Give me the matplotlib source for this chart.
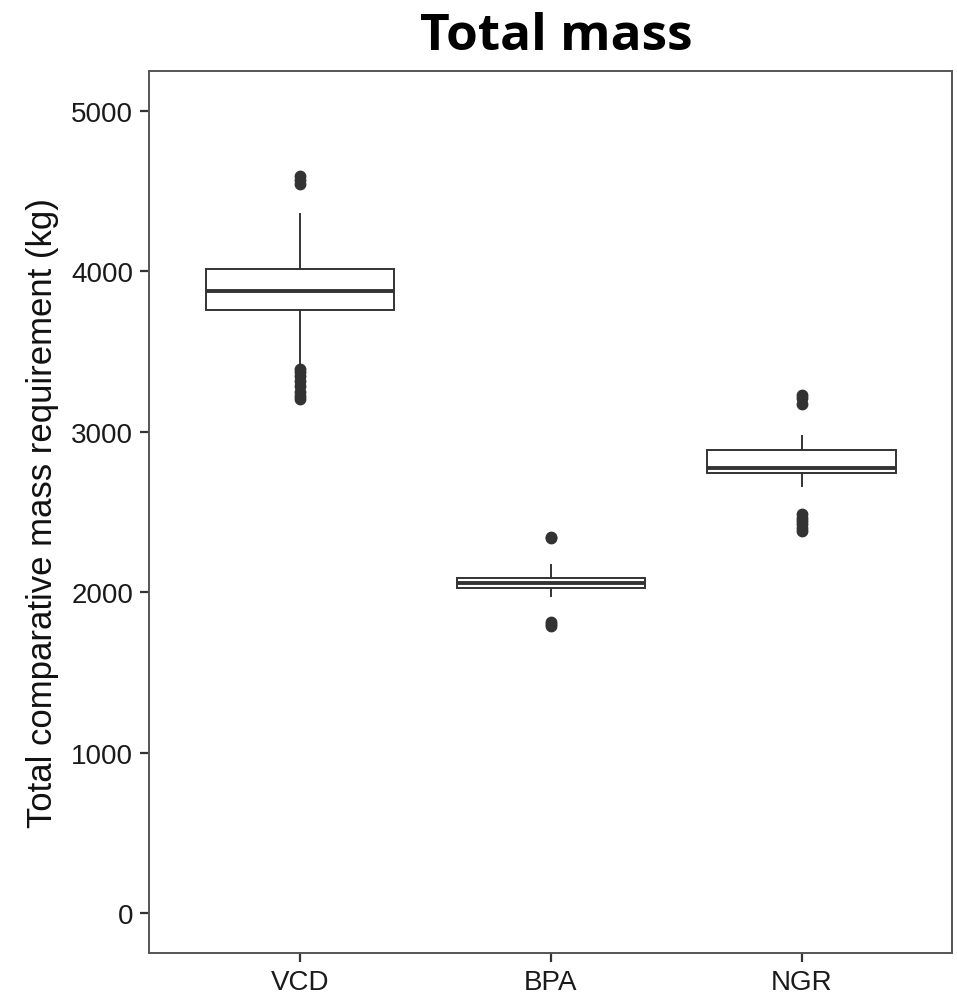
import matplotlib
matplotlib.use("Agg")
import matplotlib.pyplot as plt

categories = ["VCD", "BPA", "NGR"]
q1 = [3760, 2026, 2743]
median = [3879, 2057, 2774]
q3 = [4015, 2088, 2889]
whisker_low = [3421, 1974, 2660]
whisker_high = [4356, 2169, 2974]
outliers = [
    [4590, 4570, 4545, 3390, 3370, 3345, 3315, 3285, 3250, 3220, 3205],
    [2345, 2335, 1815, 1800, 1790],
    [3230, 3210, 3175, 2490, 2465, 2445, 2425, 2400, 2380],
]
yticks = [0, 1000, 2000, 3000, 4000, 5000]

fig = plt.figure(figsize=(9.57, 9.95), dpi=100)
ax = fig.add_axes([0.156, 0.0412, 0.8388, 0.8861])

stats = []
for i, c in enumerate(categories):
    stats.append(dict(label=c, q1=q1[i], med=median[i], q3=q3[i],
                      whislo=whisker_low[i], whishi=whisker_high[i],
                      fliers=outliers[i]))

lc = "#333333"
ax.bxp(stats, positions=[1, 2, 3], widths=0.75, showcaps=False,
       patch_artist=True,
       boxprops=dict(facecolor="white", edgecolor=lc, linewidth=1.4),
       medianprops=dict(color=lc, linewidth=2.8, solid_capstyle="butt"),
       whiskerprops=dict(color=lc, linewidth=1.4),
       flierprops=dict(marker="o", markerfacecolor=lc, markeredgecolor=lc,
                       markersize=7.5, linestyle="none"))

ax.set_xlim(0.4, 3.6)
ax.set_ylim(-247, 5245)
ax.set_yticks(yticks)
ax.set_yticklabels([str(v) for v in yticks])
ax.set_xticks([1, 2, 3])
ax.set_xticklabels(categories)

for s in ax.spines.values():
    s.set_color("#555555")
    s.set_linewidth(1.4)

ax.tick_params(axis="both", length=6.5, width=1.6, color="#333333",
               labelsize=20, labelcolor="#1a1a1a", pad=5)
for lab in ax.get_xticklabels() + ax.get_yticklabels():
    lab.set_family("Liberation Sans")

ax.set_ylabel("Total comparative mass requirement (kg)", fontsize=25,
              family="Liberation Sans", color="#111111", labelpad=9)

fig.text(0.581, 0.963, "Total mass", ha="center", va="center",
         fontsize=37, fontweight="bold", family="Open Sans", color="black")

fig.savefig("out.png", dpi=100)
